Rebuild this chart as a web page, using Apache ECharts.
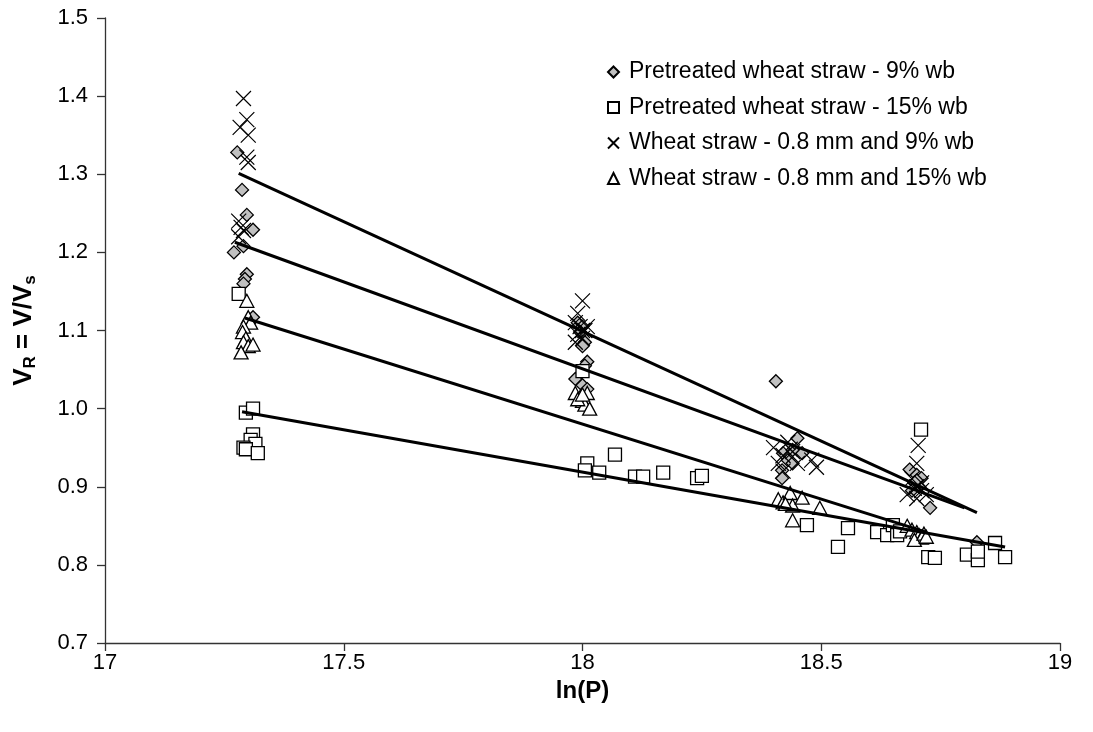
<!DOCTYPE html>
<html>
<head>
<meta charset="utf-8">
<script src="https://cdn.jsdelivr.net/npm/echarts@6/dist/echarts.min.js"></script>
<style>
  html, body { margin: 0; padding: 0; background: #fff; }
  #chart { width: 1093px; height: 732px; }
</style>
</head>
<body>
<div id="chart"></div>
<script>
// Series names as shown in the legend
const seriesNames = [
  'Pretreated wheat straw - 9% wb',
  'Pretreated wheat straw - 15% wb',
  'Wheat straw - 0.8 mm and 9% wb',
  'Wheat straw - 0.8 mm and 15% wb'
];

// Measured points: [ln(P), V/Vs]
const pretreated9 = [
  [17.277,1.328],[17.287,1.280],[17.297,1.248],[17.31,1.229],[17.29,1.208],[17.27,1.200],[17.297,1.172],[17.293,1.166],[17.29,1.160],[17.31,1.117],
  [17.99,1.110],[18.0,1.105],[17.995,1.098],[18.005,1.085],[18.0,1.080],[18.01,1.060],[18.005,1.055],[17.985,1.038],[18.0,1.030],[18.01,1.025],
  [18.405,1.035],[18.45,0.962],[18.46,0.943],[18.42,0.943],[18.43,0.934],[18.44,0.947],[18.418,0.921],[18.418,0.911],[18.44,0.930],
  [18.685,0.922],[18.70,0.915],[18.71,0.911],[18.695,0.905],[18.705,0.900],[18.69,0.895],[18.728,0.873],[18.826,0.829],[18.70,0.908]
];
const pretreated15 = [
  [17.28,1.147],[17.295,0.995],[17.31,1.000],[17.31,0.967],[17.305,0.960],[17.315,0.955],[17.29,0.950],[17.295,0.948],[17.32,0.943],
  [18.00,1.048],[18.01,0.930],[18.005,0.921],[18.035,0.918],[18.068,0.941],[18.11,0.913],[18.127,0.913],[18.169,0.918],[18.24,0.911],[18.25,0.914],
  [18.47,0.851],[18.535,0.823],[18.556,0.847],[18.617,0.842],[18.638,0.838],[18.65,0.851],[18.659,0.838],[18.665,0.843],
  [18.709,0.973],[18.724,0.810],[18.738,0.809],[18.805,0.813],[18.828,0.806],[18.828,0.817],[18.864,0.828],[18.885,0.810]
];
const wheat9 = [
  [17.29,1.397],[17.297,1.370],[17.283,1.360],[17.30,1.350],[17.297,1.322],[17.30,1.315],[17.28,1.240],[17.29,1.228],[17.28,1.220],[17.285,1.232],
  [18.00,1.138],[17.99,1.122],[17.985,1.110],[17.995,1.105],[18.00,1.100],[17.99,1.095],[18.00,1.090],[17.985,1.085],[18.005,1.100],[18.01,1.105],
  [18.40,0.950],[18.43,0.957],[18.42,0.940],[18.41,0.930],[18.44,0.945],[18.45,0.930],[18.48,0.934],[18.49,0.925],[18.42,0.920],[18.435,0.948],
  [18.703,0.953],[18.70,0.930],[18.69,0.910],[18.70,0.900],[18.71,0.895],[18.68,0.890],[18.72,0.890],[18.70,0.885],[18.71,0.905],[18.695,0.898]
];
const wheat15 = [
  [17.297,1.138],[17.30,1.117],[17.305,1.110],[17.29,1.105],[17.288,1.098],[17.295,1.090],[17.29,1.085],[17.30,1.080],[17.31,1.082],[17.285,1.072],
  [17.985,1.020],[17.995,1.015],[18.0,1.010],[18.005,1.005],[18.015,1.000],[18.01,1.020],[17.99,1.012],[18.0,1.018],
  [18.41,0.884],[18.42,0.880],[18.435,0.892],[18.44,0.876],[18.46,0.886],[18.44,0.857],[18.497,0.873],[18.425,0.878],
  [18.68,0.850],[18.69,0.845],[18.70,0.842],[18.705,0.838],[18.71,0.835],[18.695,0.832],[18.715,0.840],[18.72,0.836]
];

// Linear trend lines: start and end points
const fitPretreated9 = [[17.272,1.213],[18.80,0.873]];
const fitPretreated15 = [[17.287,0.996],[18.885,0.823]];
const fitWheat9 = [[17.28,1.301],[18.826,0.867]];
const fitWheat15 = [[17.293,1.116],[18.72,0.842]];

// Axis ranges
const xRange = { min: 17, max: 19, step: 0.5 };
const yRange = { min: 0.7, max: 1.5, step: 0.1 };

const FONT = '"Liberation Sans", Arial, sans-serif';
const crossPath = 'path://M0,0L10,10M10,0L0,10';

function scatter(name, data, symbol, size, fill, bw) {
  return {
    name, type: 'scatter', data, symbol, symbolSize: size,
    itemStyle: { color: fill, borderColor: '#000', borderWidth: bw, opacity: 1 },
    emphasis: { disabled: true },
    animation: false
  };
}
function trend(data) {
  return {
    type: 'line', data, showSymbol: false, symbol: 'none',
    lineStyle: { color: '#000', width: 3 },
    z: 5, silent: true, animation: false
  };
}

const chart = echarts.init(document.getElementById('chart'), null, { renderer: 'canvas' });
chart.setOption({
  backgroundColor: '#fff',
  animation: false,
  textStyle: { fontFamily: FONT },
  grid: { left: 105, right: 33, top: 18, bottom: 89, containLabel: false },
  legend: {
    orient: 'vertical', left: 607, top: 59, padding: 0,
    itemWidth: 11, itemHeight: 11, itemGap: 9.5,
    data: seriesNames,
    textStyle: { fontFamily: FONT, fontSize: 23, color: '#000', lineHeight: 26, padding: [0, 0, 0, 5] },
    selectedMode: false
  },
  xAxis: {
    type: 'value', min: xRange.min, max: xRange.max, interval: xRange.step,
    name: 'ln(P)', nameLocation: 'middle', nameGap: 34,
    nameTextStyle: { fontFamily: FONT, fontSize: 24, fontWeight: 'bold', color: '#000' },
    axisLine: { show: true, lineStyle: { color: '#333', width: 1.3 } },
    axisTick: { show: true, inside: false, length: 8, lineStyle: { color: '#333', width: 1.3 } },
    axisLabel: { fontFamily: FONT, fontSize: 22, color: '#000', margin: 9 },
    splitLine: { show: false }
  },
  yAxis: {
    type: 'value', min: yRange.min, max: yRange.max, interval: yRange.step,
    name: '{v|V}{sub|R}{v| = V/V}{sub|s}', nameLocation: 'middle', nameGap: 66,
    nameTextStyle: {
      fontFamily: FONT, fontSize: 26, fontWeight: 'bold', color: '#000',
      rich: {
        v: { fontFamily: FONT, fontSize: 26, fontWeight: 'bold', color: '#000', lineHeight: 30, verticalAlign: 'middle' },
        sub: { fontFamily: FONT, fontSize: 17, fontWeight: 'bold', color: '#000', lineHeight: 17, verticalAlign: 'bottom' }
      }
    },
    axisLine: { show: true, lineStyle: { color: '#333', width: 1.3 } },
    axisTick: { show: true, inside: false, length: 8, lineStyle: { color: '#333', width: 1.3 } },
    axisLabel: { fontFamily: FONT, fontSize: 22, color: '#000', margin: 17, formatter: v => v.toFixed(1) },
    splitLine: { show: false }
  },
  series: [
    scatter(seriesNames[0], pretreated9, 'diamond', 13, '#c0c0c0', 1.3),
    scatter(seriesNames[1], pretreated15, 'rect', 13, '#fff', 1.3),
    scatter(seriesNames[2], wheat9, crossPath, 15, 'transparent', 1.2),
    scatter(seriesNames[3], wheat15, 'triangle', [14, 13], '#fff', 1.3),
    trend(fitPretreated9),
    trend(fitPretreated15),
    trend(fitWheat9),
    trend(fitWheat15)
  ]
});
</script>
</body>
</html>
